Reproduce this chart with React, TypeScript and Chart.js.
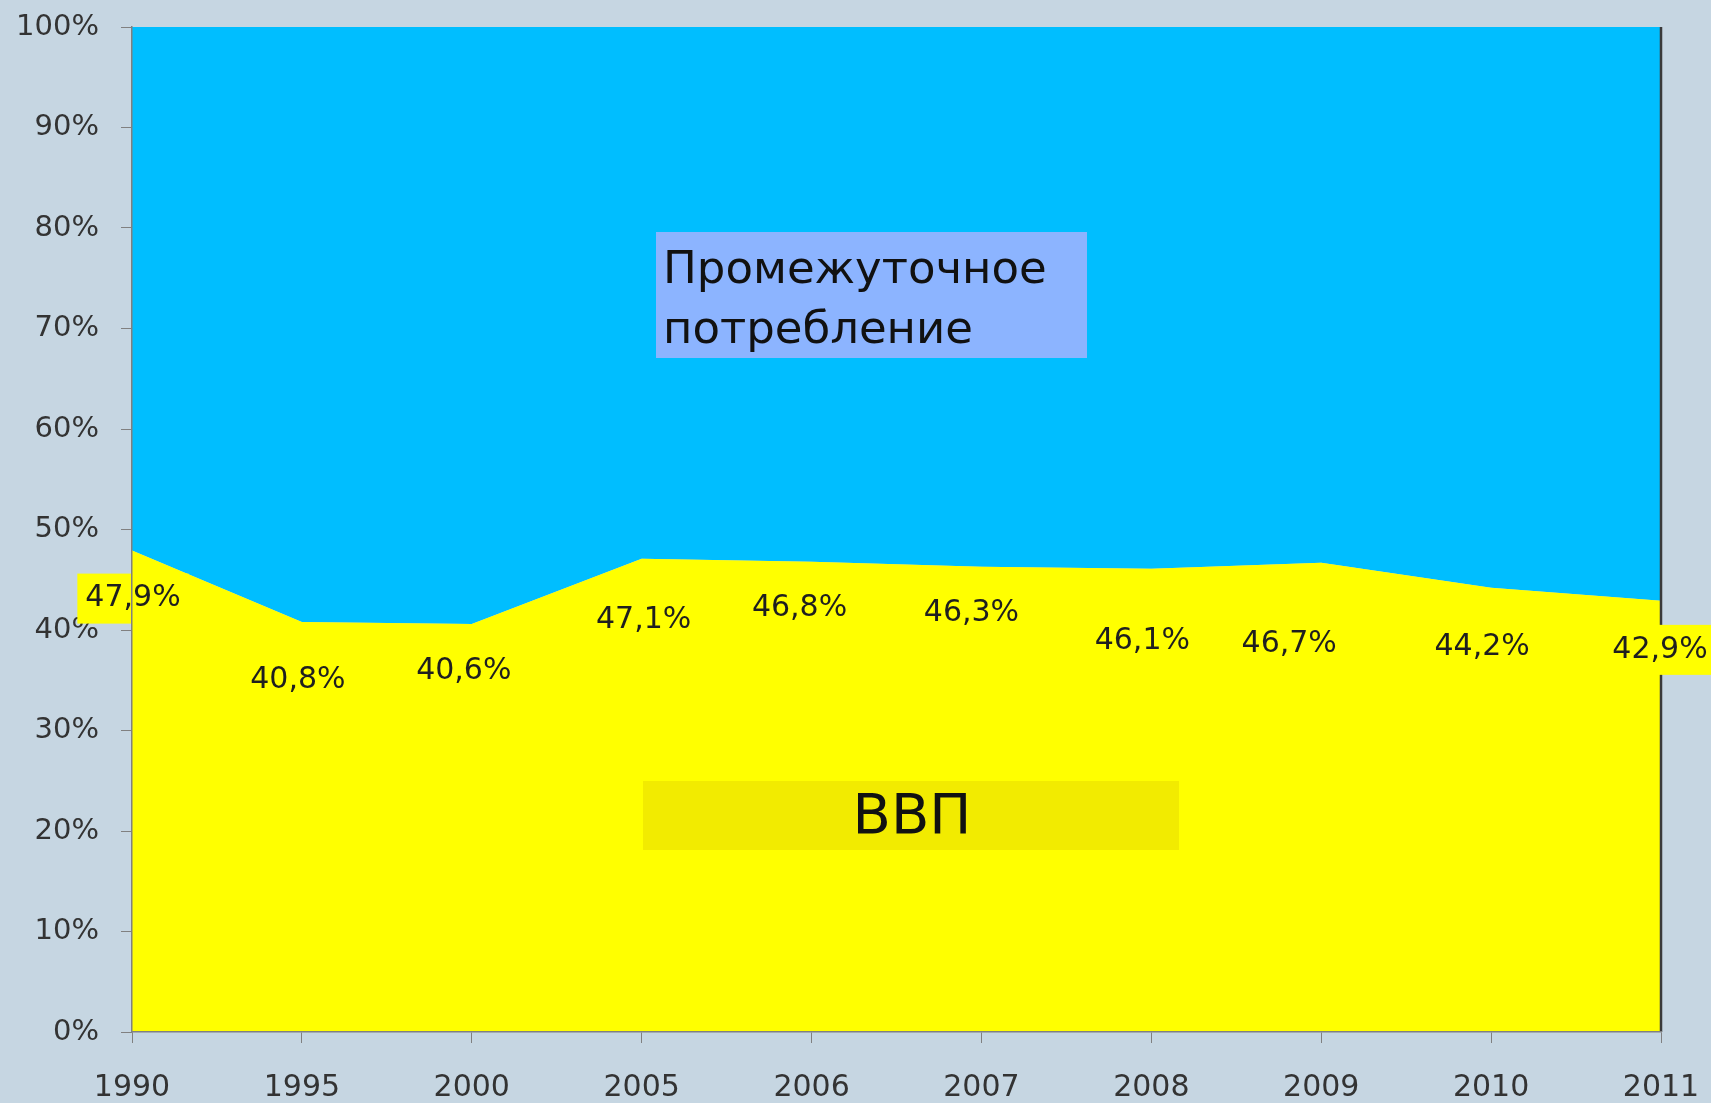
import React, { useEffect, useRef } from "react";
import { Chart, registerables } from "chart.js";

Chart.register(...registerables);

const years = ["1990", "1995", "2000", "2005", "2006", "2007", "2008", "2009", "2010", "2011"];
const gdpShare = [47.9, 40.8, 40.6, 47.1, 46.8, 46.3, 46.1, 46.7, 44.2, 42.9];
const intermediateShare = [52.1, 59.2, 59.4, 52.9, 53.2, 53.7, 53.9, 53.3, 55.8, 57.1];
const gdpLabels = ["47,9%", "40,8%", "40,6%", "47,1%", "46,8%", "46,3%", "46,1%", "46,7%", "44,2%", "42,9%"];
const yTickValues = [0, 10, 20, 30, 40, 50, 60, 70, 80, 90, 100];

// label placement offsets (pixels, style only)
const labelDx = [1, -4, -8, 2, -12, -10, -9, -32, -9, -1];
const labelDy = [48, 58, 47, 62, 47, 47, 73, 82, 59, 49];

const BG = "#C6D6E2";
const FONT = '"DejaVu Sans", Verdana, sans-serif';

const annotationsPlugin = {
  id: "annotations",
  afterDatasetsDraw(chart: any) {
    const ctx = chart.ctx as CanvasRenderingContext2D;
    const a = chart.chartArea;
    const meta = chart.getDatasetMeta(0);
    ctx.save();
    // right border of plot
    ctx.strokeStyle = "#3a3a3a";
    ctx.lineWidth = 2.5;
    ctx.beginPath();
    ctx.moveTo(a.right, a.top);
    ctx.lineTo(a.right, a.bottom);
    ctx.stroke();

    // series name boxes
    ctx.fillStyle = "#8CB4FF";
    ctx.fillRect(656, 232, 431, 126);
    ctx.fillStyle = "#111";
    ctx.font = `45px ${FONT}`;
    ctx.textAlign = "left";
    ctx.textBaseline = "alphabetic";
    ctx.fillText("Промежуточное", 663, 283);
    ctx.fillText("потребление", 663, 343);

    ctx.fillStyle = "#F2EB00";
    ctx.fillRect(643, 781, 536, 69);
    ctx.fillStyle = "#111";
    ctx.font = `56px ${FONT}`;
    ctx.textAlign = "center";
    ctx.fillText("ВВП", 912, 833);

    // value labels
    ctx.font = `30px ${FONT}`;
    ctx.textBaseline = "middle";
    ctx.textAlign = "center";
    meta.data.forEach((pt: any, i: number) => {
      const x = pt.x + labelDx[i];
      const y = pt.y + labelDy[i];
      const w = ctx.measureText(gdpLabels[i]).width;
      ctx.fillStyle = "#FFFF00";
      ctx.fillRect(x - w / 2 - 8, y - 25, w + 16, 50);
      ctx.fillStyle = "#1f1f1f";
      ctx.fillText(gdpLabels[i], x, y);
    });
    ctx.restore();
  },
};

export default function App() {
  const canvasRef = useRef<HTMLCanvasElement | null>(null);

  useEffect(() => {
    document.body.style.margin = "0";
    document.body.style.background = BG;
    if (!canvasRef.current) return;
    const chart = new Chart(canvasRef.current, {
      type: "line",
      data: {
        labels: years,
        datasets: [
          {
            label: "ВВП",
            data: gdpShare,
            backgroundColor: "#FFFF00",
            borderColor: "rgba(0,0,0,0)",
            borderWidth: 0,
            pointRadius: 0,
            fill: "origin",
            tension: 0,
          },
          {
            label: "Промежуточное потребление",
            data: intermediateShare,
            backgroundColor: "#00BEFF",
            borderColor: "rgba(0,0,0,0)",
            borderWidth: 0,
            pointRadius: 0,
            fill: "-1",
            tension: 0,
          },
        ],
      },
      options: {
        responsive: true,
        maintainAspectRatio: false,
        animation: false,
        layout: { autoPadding: false, padding: { top: 27, right: 50, left: 0, bottom: 0 } },
        plugins: {
          legend: { display: false },
          tooltip: { enabled: false },
        },
        scales: {
          x: {
            type: "category",
            offset: false,
            grid: {
              display: true,
              drawOnChartArea: false,
              drawTicks: true,
              tickLength: 11,
              color: "#808080",
            },
            border: { display: true, color: "#808080", width: 1.5, z: 1 },
            ticks: {
              color: "#333",
              font: { family: FONT, size: 30 },
              padding: 27,
              maxRotation: 0,
              autoSkip: false,
            },
            afterFit: (scale: any) => {
              scale.height = 71;
              scale.paddingLeft = 0;
              scale.paddingRight = 0;
              scale.paddingTop = 0;
              scale.paddingBottom = 0;
            },
          },
          y: {
            stacked: true,
            min: 0,
            max: 100,
            afterBuildTicks: (scale: any) => {
              scale.ticks = yTickValues.map((v) => ({ value: v }));
            },
            grid: {
              display: true,
              drawOnChartArea: false,
              drawTicks: true,
              tickLength: 11,
              color: "#808080",
            },
            border: { display: true, color: "#808080", width: 1.5, z: 1 },
            ticks: {
              color: "#333",
              font: { family: FONT, size: 29 },
              padding: 22,
              callback: (v: any) => `${v}%`,
            },
            afterFit: (scale: any) => {
              scale.width = 132;
              scale.paddingLeft = 0;
              scale.paddingRight = 0;
              scale.paddingTop = 0;
              scale.paddingBottom = 0;
            },
          },
        },
      },
      plugins: [annotationsPlugin],
    });
    return () => chart.destroy();
  }, []);

  return (
    <div style={{ width: 1711, height: 1103, position: "relative", background: BG }}>
      <canvas ref={canvasRef} />
    </div>
  );
}
